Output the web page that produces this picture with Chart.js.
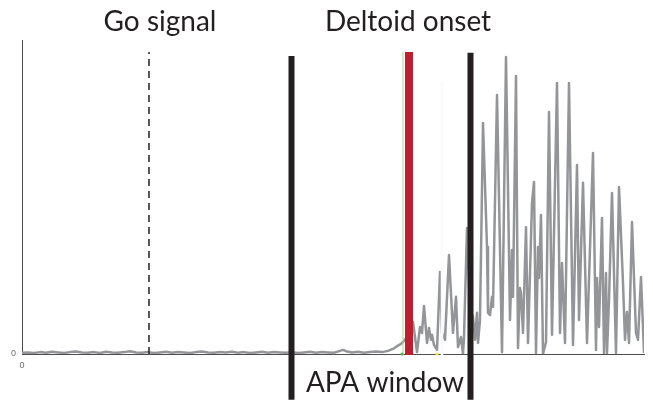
<!DOCTYPE html>
<html>
<head>
<meta charset="utf-8">
<style>
  html, body { margin: 0; padding: 0; background: #ffffff; }
  canvas { display: block; }
</style>
<script src="https://cdn.jsdelivr.net/npm/chart.js@4"></script>
</head>
<body>
<canvas id="emg" width="653" height="404"></canvas>
<script>
// Rectified deltoid EMG trace (time in ms from trial start, amplitude in % of max)
const traceTime = [
  0, 6, 12, 18, 24, 30, 36, 42, 48, 54, 60, 66, 72, 78, 84, 90, 96, 102, 108, 114,
  120, 126, 132, 138, 144, 150, 156, 162, 168, 174, 180, 186, 192, 198, 204, 210,
  216, 222, 228, 234, 240, 246, 252, 258, 264, 270, 276, 282, 288, 294, 300, 306,
  312, 318, 321, 324, 330, 336, 342, 348, 354, 360, 366, 372,
  375, 379, 383, 388, 391, 395, 398, 400, 402, 405, 407, 409, 410, 412, 415, 418,
  420, 423, 427, 431, 434, 436, 439, 441, 442, 445, 448, 451, 453, 455, 456, 458,
  461, 465, 466, 468, 470, 471, 475, 480, 484, 488, 490, 491, 494, 496, 498, 499,
  501, 504, 506, 510, 512, 514, 516, 517, 519, 521, 524, 527, 530, 535, 538, 540,
  543, 547, 551, 555, 557, 561, 565, 571, 574, 575, 577, 580, 582, 584, 585, 587,
  590, 594, 597, 601, 603, 605, 607, 610, 614, 616, 619, 622
];
const traceValue = [
  0.4, 0.5, 0.3, 0.6, 0.4, 0.7, 0.5, 0.3, 0.6, 0.8, 0.5, 0.4, 0.6, 0.3, 0.7, 0.5, 0.4, 0.6, 0.9, 0.5,
  0.4, 0.6, 0.3, 0.5, 0.7, 0.4, 0.6, 0.5, 0.3, 0.6, 0.8, 0.5, 0.4, 0.6, 0.5, 0.7,
  0.4, 0.6, 0.3, 0.5, 0.7, 0.4, 0.6, 0.5, 0.4, 0.6, 0.3, 0.5, 0.7, 0.4, 0.6, 0.5,
  0.4, 1.0, 1.3, 0.9, 0.5, 0.7, 0.4, 0.6, 0.8, 0.6, 1.0, 1.8,
  2.5, 3.2, 4.5, 7.6, 10.2, 0.6, 8.6, 6.7, 15.3, 3.5, 8.3, 4.5, 6.1, 2.9, 1.3, 26.1,
  6.7, 4.5, 31.5, 6.7, 18.2, 2.2, 5.4, 0, 5.4, 40.1, 14, 11.8, 4.5, 13.1, 3.5, 10.8,
  73.6, 34.1, 13.1, 12.4, 18.2, 15, 82.5, 0.6, 94.6, 10.8, 33.1, 18.2, 88.5, 1.9, 21, 19.4,
  6.7, 40.4, 3.5, 48.1, 54.8, 0.3, 34.1, 24.2, 44.3, 0, 3.8, 77.1, 6.1, 86.3, 6.7, 29,
  3.5, 86.3, 2.9, 60.2, 10.8, 54.5, 3.5, 64, 1.3, 24.2, 8.6, 43.3, 0.3, 25.8, 0.3, 17.2,
  51.3, 0.3, 53.2, 22.6, 4.5, 13.4, 3.5, 42, 6.7, 4.5, 24.5, 0.3
];

// Event times (ms) and the height each event marker reaches (% scale)
const goSignalTime = 127;
const apaStartTime = 269.5;
const deltoidOnsetTime = 387;
const apaEndTime = 448.5;
const detectorTime = 381;
const sweepGapTime = 420;
const markerTop = { go: 96.2, apaStart: 94.9, deltoid: 96.2, apaEnd: 95.9, detector: 96.2, gap: 86.6 };
const apaMarkerBottom = -14.6;

// Small onset flags placed on the baseline
const flagTimes = [380, 415];
const flagValues = [0, 0];

// Axis tick values
const xTickValues = [0];
const yTickValues = [0];

// Event labels
const labelGo = 'Go signal';
const labelDeltoid = 'Deltoid onset';
const labelApa = 'APA window';

function vLine(t, top, bottom, color, width, dash, order) {
  return {
    data: [{ x: t, y: bottom }, { x: t, y: top }],
    borderColor: color,
    borderWidth: width,
    borderDash: dash || [],
    borderCapStyle: 'butt',
    pointRadius: 0,
    fill: false,
    clip: false,
    order: order
  };
}

const traceData = traceTime.map((t, i) => ({ x: t, y: traceValue[i] }));

const eventLabels = {
  id: 'eventLabels',
  afterDraw(chart) {
    const ctx = chart.ctx;
    const xs = chart.scales.x;
    ctx.save();
    ctx.fillStyle = '#231f20';
    ctx.font = '28px Lato, "Open Sans", sans-serif';
    ctx.textAlign = 'center';
    ctx.textBaseline = 'middle';
    ctx.fillText(labelGo, xs.getPixelForValue(goSignalTime) + 11, 22);
    ctx.fillText(labelDeltoid, xs.getPixelForValue(deltoidOnsetTime) - 1, 22);
    const mid = (xs.getPixelForValue(apaStartTime) + xs.getPixelForValue(apaEndTime)) / 2;
    ctx.fillText(labelApa, mid + 4, 383);
    ctx.restore();
  }
};

new Chart(document.getElementById('emg'), {
  type: 'line',
  data: {
    datasets: [
      vLine(apaStartTime, markerTop.apaStart, apaMarkerBottom, '#231f20', 6, null, 1),
      vLine(apaEndTime, markerTop.apaEnd, apaMarkerBottom, '#231f20', 6, null, 1),
      vLine(deltoidOnsetTime, markerTop.deltoid, -0.3, '#be1e2d', 8, null, 2),
      vLine(sweepGapTime, markerTop.gap, -0.6, '#fbfbfe', 2.5, null, 3),
      vLine(detectorTime, markerTop.detector, -0.3, '#a6d98a', 1, null, 4),
      vLine(goSignalTime, markerTop.go, 0, '#231f20', 1.5, [7, 5], 5),
      {
        type: 'scatter',
        data: flagTimes.map((t, i) => ({ x: t, y: flagValues[i] })),
        pointRadius: 1.6,
        pointBorderWidth: 0,
        pointBackgroundColor: ['#4db848', '#f2e04a'],
        clip: false,
        order: 0
      },
      {
        data: traceData,
        borderColor: '#939598',
        borderWidth: 2.5,
        borderJoinStyle: 'round',
        pointRadius: 0,
        tension: 0,
        fill: false,
        order: 10
      }
    ]
  },
  options: {
    responsive: false,
    animation: false,
    devicePixelRatio: 1,
    layout: { padding: { top: 40, right: 9, left: 0, bottom: 0 } },
    plugins: { legend: { display: false }, tooltip: { enabled: false } },
    scales: {
      x: {
        type: 'linear',
        min: 0,
        max: 622,
        grid: { display: false, drawTicks: false },
        border: { display: true, color: '#4d4d4f', width: 1 },
        afterBuildTicks(scale) { scale.ticks = xTickValues.map(v => ({ value: v })); },
        afterFit(scale) { scale.height = 50; },
        ticks: { padding: 6, color: '#6d6e71', font: { size: 9, family: 'Arial, "Liberation Sans", sans-serif' }, maxRotation: 0 }
      },
      y: {
        min: 0,
        max: 100,
        grid: { display: false, drawTicks: false },
        border: { display: true, color: '#4d4d4f', width: 1 },
        afterBuildTicks(scale) { scale.ticks = yTickValues.map(v => ({ value: v })); },
        afterFit(scale) { scale.width = 22; },
        ticks: { padding: 6, color: '#6d6e71', font: { size: 9, family: 'Arial, "Liberation Sans", sans-serif' } }
      }
    }
  },
  plugins: [eventLabels]
});
</script>
</body>
</html>
